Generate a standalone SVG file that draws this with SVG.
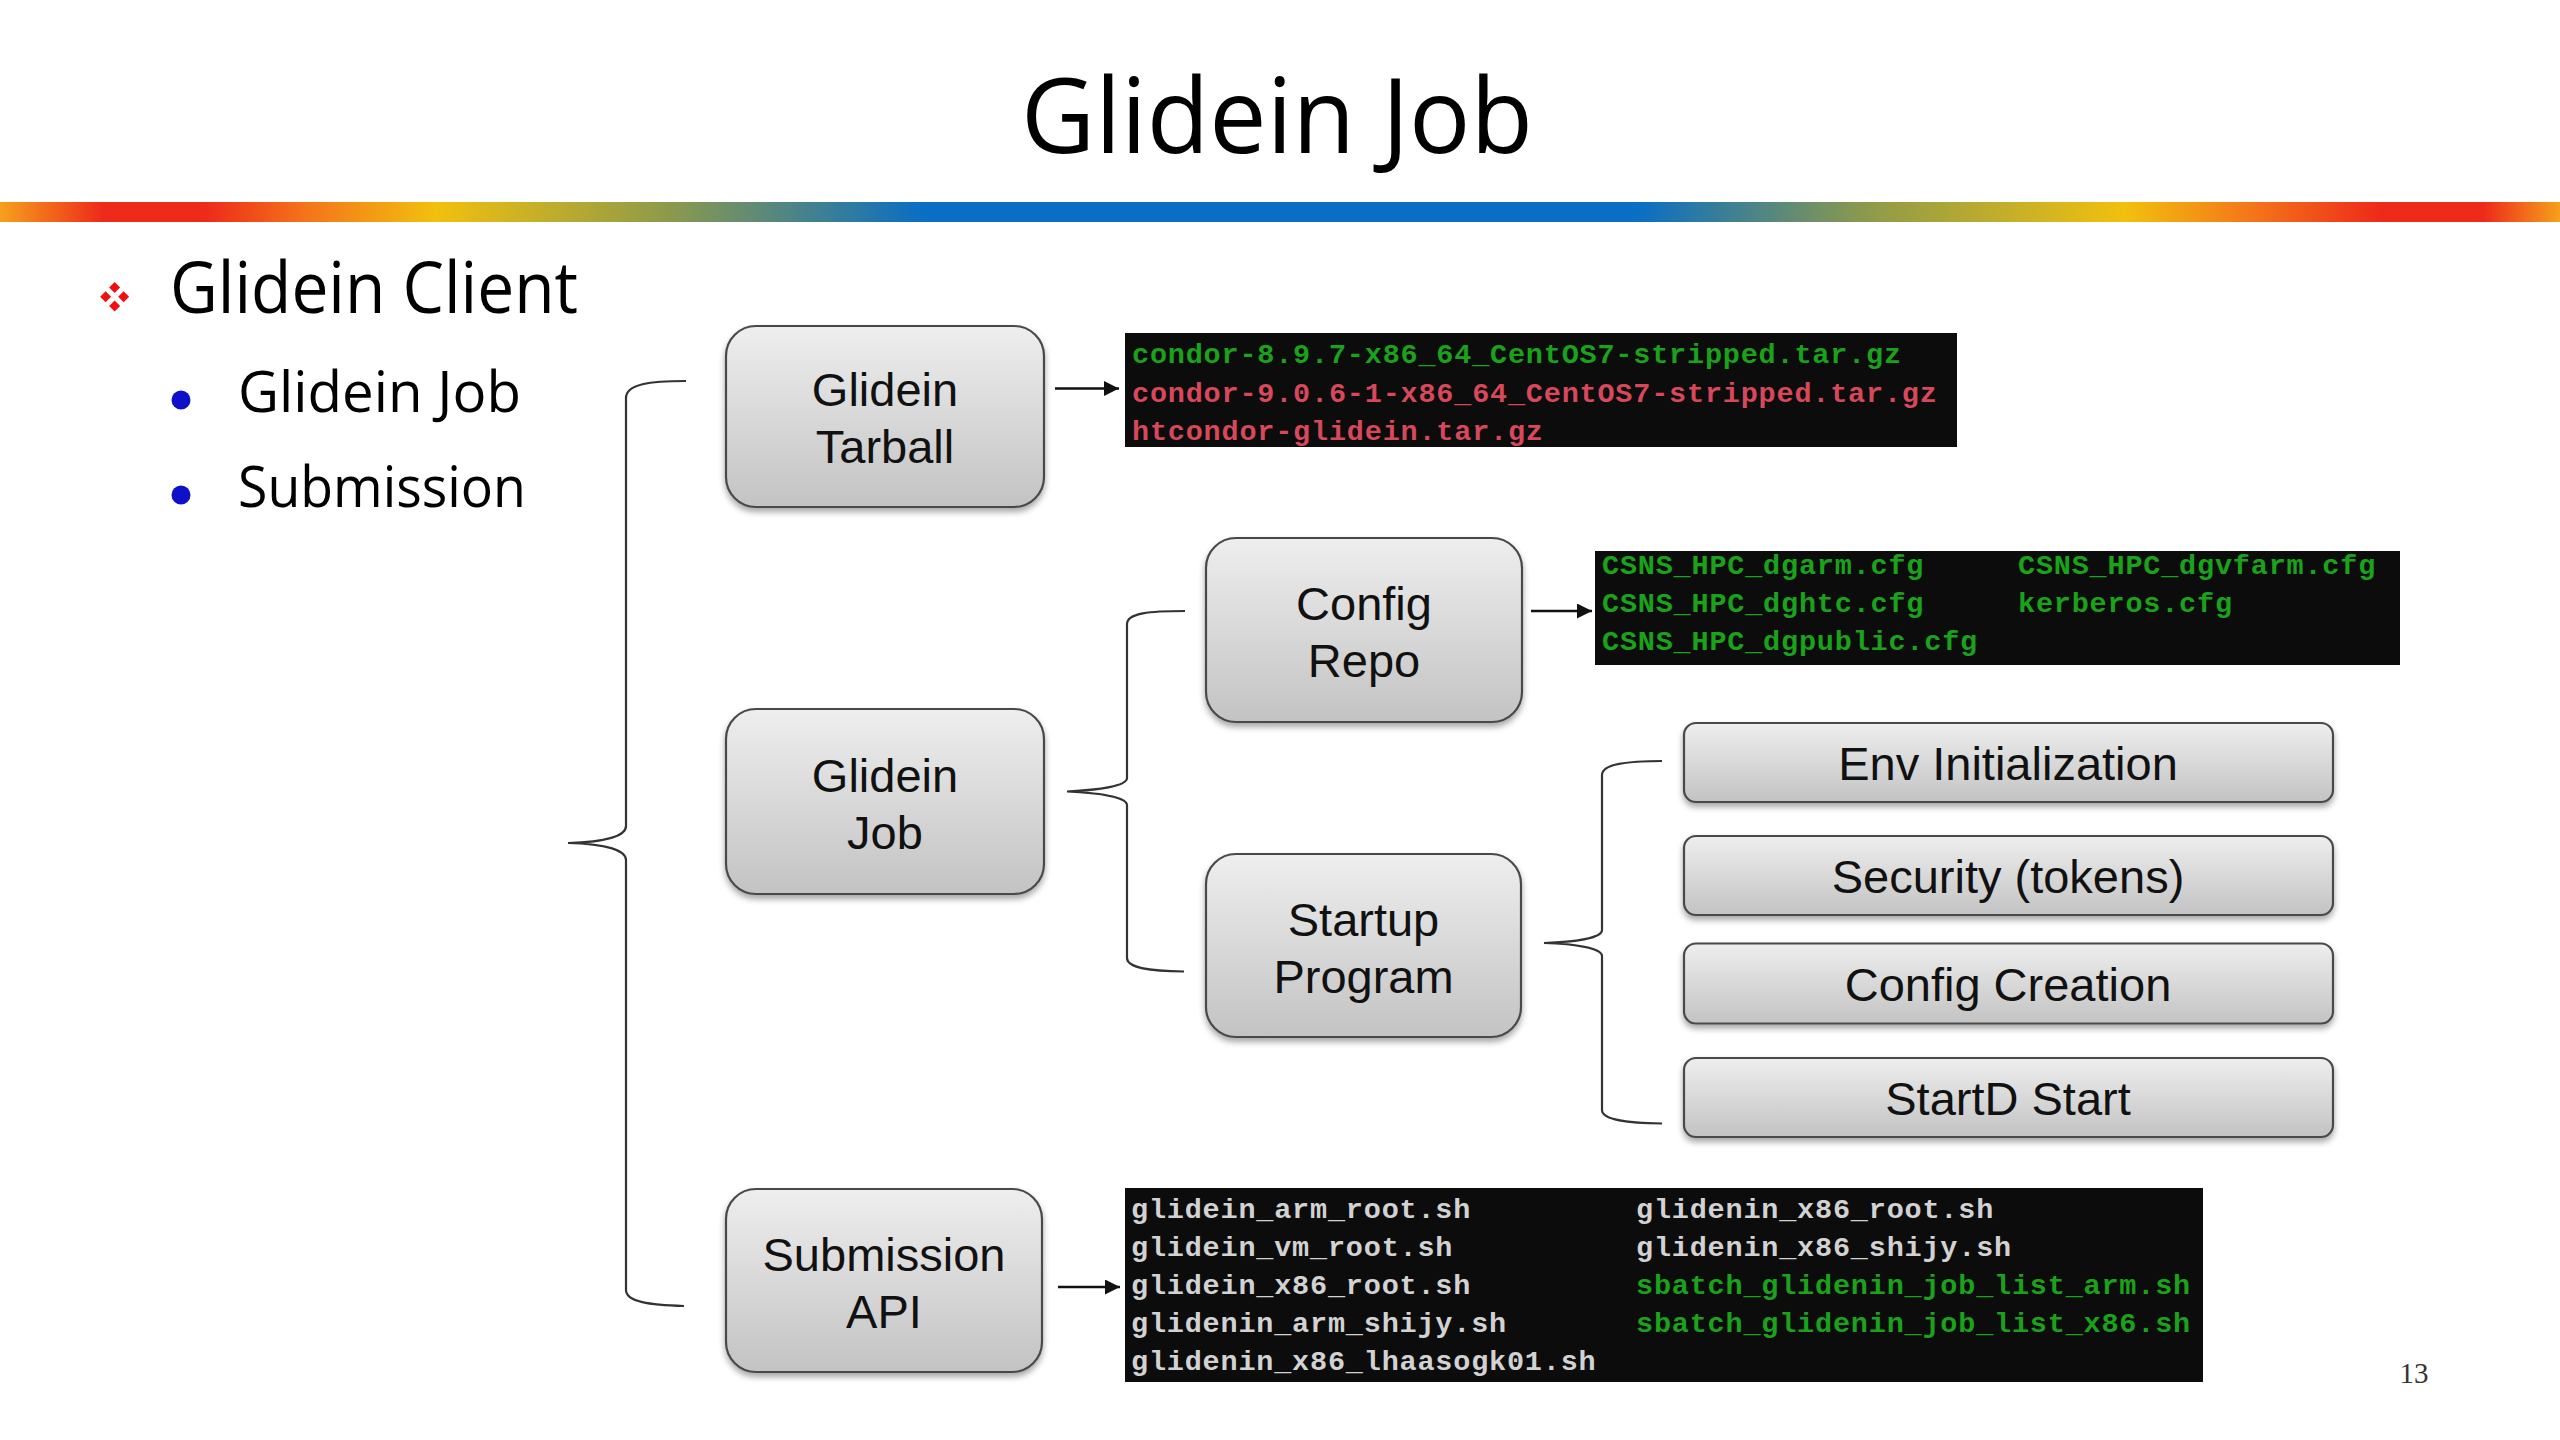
<svg xmlns="http://www.w3.org/2000/svg" width="2560" height="1440" viewBox="0 0 2560 1440">
<defs>
<style>
.ttl{font-family:"Open Sans","Noto Sans",sans-serif;fill:#000}
.box{fill:url(#boxg);stroke:#4a4a4a;stroke-width:2.2;filter:url(#sh)}
.bt{font-family:"Liberation Sans",Arial,sans-serif;font-size:47px;fill:#111;text-anchor:middle}
.term{fill:#0c0c0c}
.mono{font-family:"Liberation Mono","DejaVu Sans Mono",monospace;font-size:28.5px;font-weight:bold;letter-spacing:0.8px}
.g{fill:#1aa31a}
.r{fill:#d6485a}
.w{fill:#d2d2d2}
.brace{fill:none;stroke:#333;stroke-width:2.2}
.arr{fill:none;stroke:#111;stroke-width:2.5}
</style>
<linearGradient id="bar" x1="0" y1="0" x2="1" y2="0">
<stop offset="0" stop-color="#f6a01c"/>
<stop offset="0.04" stop-color="#ee2a1a"/>
<stop offset="0.08" stop-color="#ee2a1a"/>
<stop offset="0.12" stop-color="#f4751a"/>
<stop offset="0.17" stop-color="#f2c00e"/>
<stop offset="0.26" stop-color="#8e9a4a"/>
<stop offset="0.36" stop-color="#0a6ec4"/>
<stop offset="0.64" stop-color="#0a6ec4"/>
<stop offset="0.73" stop-color="#8e9a4a"/>
<stop offset="0.83" stop-color="#f2c00e"/>
<stop offset="0.88" stop-color="#f4751a"/>
<stop offset="0.93" stop-color="#ee2a1a"/>
<stop offset="0.97" stop-color="#ee2a1a"/>
<stop offset="1" stop-color="#f6a01c"/>
</linearGradient>
<linearGradient id="boxg" x1="0" y1="0" x2="0" y2="1">
<stop offset="0" stop-color="#eeeeee"/>
<stop offset="1" stop-color="#c3c3c3"/>
</linearGradient>
<filter id="sh" x="-10%" y="-10%" width="120%" height="130%">
<feDropShadow dx="0" dy="4" stdDeviation="3" flood-color="#000" flood-opacity="0.35"/>
</filter>
<marker id="ah" viewBox="0 0 10 10" refX="10" refY="5" markerWidth="7" markerHeight="6" orient="auto" markerUnits="strokeWidth">
<path d="M0,0 L10,5 L0,10 z" fill="#111"/>
</marker>
</defs>
<rect width="2560" height="1440" fill="#fff"/>

<text class="ttl" x="1277" y="153" font-size="105" text-anchor="middle" textLength="512" lengthAdjust="spacingAndGlyphs">Glidein Job</text>
<rect x="0" y="202" width="2560" height="20" fill="url(#bar)"/>

<g id="bullets">
<g fill="#f01010">
<path d="M114.6,282 l5.5,5.5 l-5.5,5.5 l-5.5,-5.5 z"/>
<path d="M114.6,300.5 l5.5,5.5 l-5.5,5.5 l-5.5,-5.5 z"/>
<path d="M105.6,291.2 l5.5,5.5 l-5.5,5.5 l-5.5,-5.5 z"/>
<path d="M123.6,291.2 l5.5,5.5 l-5.5,5.5 l-5.5,-5.5 z"/>
</g>
<text class="ttl" x="170" y="313" font-size="71" textLength="408" lengthAdjust="spacingAndGlyphs">Glidein Client</text>
<circle cx="181" cy="400" r="9.5" fill="#1010c8"/>
<text class="ttl" x="238" y="412" font-size="56" textLength="283" lengthAdjust="spacingAndGlyphs">Glidein Job</text>
<circle cx="181" cy="495" r="9.5" fill="#1010c8"/>
<text class="ttl" x="238" y="507" font-size="56" textLength="288" lengthAdjust="spacingAndGlyphs">Submission</text>
</g>

<g id="connectors">
<path class="brace" d="M686 381 C650 381 626 384 626 398 L626 826 C626 836 606 842 568 843 C606 844 626 850 626 860 L626 1290 C626 1302 650 1305 684 1306"/>
<path class="brace" d="M1185 611 C1150 611 1127 613 1127 624 L1127 778 C1127 786 1100 790 1067 791.5 C1100 793 1127 797 1127 805 L1127 958 C1127 968 1150 971 1184 971.5"/>
<path class="brace" d="M1662 761 C1628 761 1602 764 1602 775 L1602 930 C1602 938 1575 942 1544 943 C1575 944 1602 948 1602 956 L1602 1110 C1602 1120 1628 1123 1662 1123.5"/>
<line class="arr" x1="1055" y1="388.5" x2="1119" y2="388.5" marker-end="url(#ah)"/>
<line class="arr" x1="1531" y1="611" x2="1592" y2="611" marker-end="url(#ah)"/>
<line class="arr" x1="1058" y1="1287" x2="1120" y2="1287" marker-end="url(#ah)"/>
</g>

<g id="node-tarball">
<rect class="box" x="726" y="326" width="318" height="181" rx="30"/>
<text class="bt" x="885" y="406">Glidein</text>
<text class="bt" x="885" y="463">Tarball</text>
</g>
<g id="node-gjob">
<rect class="box" x="726" y="709" width="318" height="185" rx="30"/>
<text class="bt" x="885" y="791.5">Glidein</text>
<text class="bt" x="885" y="848.5">Job</text>
</g>
<g id="node-submission">
<rect class="box" x="726" y="1189" width="316" height="183" rx="30"/>
<text class="bt" x="884" y="1270.5">Submission</text>
<text class="bt" x="884" y="1327.5">API</text>
</g>
<g id="node-configrepo">
<rect class="box" x="1206" y="538" width="316" height="184" rx="30"/>
<text class="bt" x="1364" y="620">Config</text>
<text class="bt" x="1364" y="677">Repo</text>
</g>
<g id="node-startup">
<rect class="box" x="1206" y="854" width="315" height="183" rx="30"/>
<text class="bt" x="1363.5" y="935.5">Startup</text>
<text class="bt" x="1363.5" y="992.5">Program</text>
</g>
<g id="node-env">
<rect class="box" x="1684" y="723" width="649" height="79" rx="12"/>
<text class="bt" x="2008" y="780">Env Initialization</text>
</g>
<g id="node-security">
<rect class="box" x="1684" y="836" width="649" height="79" rx="12"/>
<text class="bt" x="2008" y="893">Security (tokens)</text>
</g>
<g id="node-configcreation">
<rect class="box" x="1684" y="943.5" width="649" height="80" rx="12"/>
<text class="bt" x="2008" y="1001">Config Creation</text>
</g>
<g id="node-startd">
<rect class="box" x="1684" y="1058" width="649" height="79" rx="12"/>
<text class="bt" x="2008" y="1115">StartD Start</text>
</g>

<g id="node-tarball-files">
<rect class="term" x="1125" y="333" width="832" height="114"/>
<text class="mono g" x="1132" y="363">condor-8.9.7-x86_64_CentOS7-stripped.tar.gz</text>
<text class="mono r" x="1132" y="402">condor-9.0.6-1-x86_64_CentOS7-stripped.tar.gz</text>
<text class="mono r" x="1132" y="440">htcondor-glidein.tar.gz</text>
</g>
<g id="node-config-files">
<rect class="term" x="1595" y="551" width="805" height="114"/>
<text class="mono g" x="1602" y="574">CSNS_HPC_dgarm.cfg</text>
<text class="mono g" x="1602" y="612">CSNS_HPC_dghtc.cfg</text>
<text class="mono g" x="1602" y="650">CSNS_HPC_dgpublic.cfg</text>
<text class="mono g" x="2018" y="574">CSNS_HPC_dgvfarm.cfg</text>
<text class="mono g" x="2018" y="612">kerberos.cfg</text>
</g>
<g id="node-submission-files">
<rect class="term" x="1125" y="1188" width="1078" height="194"/>
<text class="mono w" x="1131" y="1218">glidein_arm_root.sh</text>
<text class="mono w" x="1131" y="1256">glidein_vm_root.sh</text>
<text class="mono w" x="1131" y="1294">glidein_x86_root.sh</text>
<text class="mono w" x="1131" y="1332">glidenin_arm_shijy.sh</text>
<text class="mono w" x="1131" y="1370">glidenin_x86_lhaasogk01.sh</text>
<text class="mono w" x="1636" y="1218">glidenin_x86_root.sh</text>
<text class="mono w" x="1636" y="1256">glidenin_x86_shijy.sh</text>
<text class="mono g" x="1636" y="1294">sbatch_glidenin_job_list_arm.sh</text>
<text class="mono g" x="1636" y="1332">sbatch_glidenin_job_list_x86.sh</text>
</g>

<text x="2414" y="1383" font-family="Liberation Serif,serif" font-size="29" fill="#333" text-anchor="middle">13</text>
</svg>
